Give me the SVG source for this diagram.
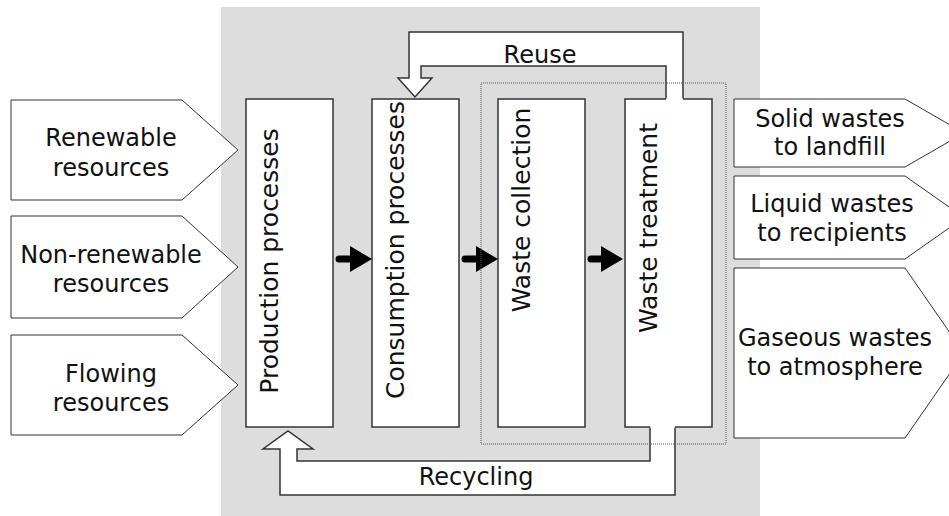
<svg xmlns="http://www.w3.org/2000/svg" width="949" height="516" viewBox="0 0 949 516">
<style>
.t{font-family:"DejaVu Sans","Verdana",sans-serif;font-size:24px;fill:#111;text-anchor:middle}
.tv{font-family:"DejaVu Sans","Verdana",sans-serif;font-size:25px;fill:#111;text-anchor:middle}
.box{fill:#fff;stroke:#333;stroke-width:1.5}
.pent{fill:#fff;stroke:#333;stroke-width:1}
.big{fill:#fff;stroke:none}
.edge{fill:none;stroke:#333;stroke-width:1.5;stroke-linejoin:miter}
.blk{stroke:#000;stroke-width:7;stroke-linecap:round;fill:none}
.head{fill:#000}
</style>
<rect x="221" y="7" width="539" height="509" fill="#dddddd"/>
<g id="renewable">
<polygon class="pent" points="11,100 182,100 238,150 182,200 11,200"/>
<text class="t" x="111" y="146">Renewable</text>
<text class="t" x="111" y="176">resources</text>
</g>
<g id="nonrenewable">
<polygon class="pent" points="11,216 182,216 238,267 182,318 11,318"/>
<text class="t" x="111" y="263">Non-renewable</text>
<text class="t" x="111" y="292">resources</text>
</g>
<g id="flowing">
<polygon class="pent" points="11,335 182,335 238,385 182,435 11,435"/>
<text class="t" x="111" y="382">Flowing</text>
<text class="t" x="111" y="411">resources</text>
</g>
<g id="production">
<rect class="box" x="246" y="99" width="87" height="328"/>
<text class="tv" transform="translate(278,261) rotate(-90)">Production processes</text>
</g>
<g id="consumption">
<rect class="box" x="372" y="99" width="87" height="328"/>
<text class="tv" transform="translate(404,250) rotate(-90)">Consumption processes</text>
</g>
<g id="collection">
<rect class="box" x="498" y="99" width="87" height="328"/>
<text class="tv" transform="translate(530,210) rotate(-90)">Waste collection</text>
</g>
<g id="treatment">
<rect class="box" x="625" y="99" width="87" height="328"/>
<text class="tv" transform="translate(657,228) rotate(-90)">Waste treatment</text>
</g>
<g id="solid">
<polygon class="pent" points="734,99 905,99 964,133 905,167 734,167"/>
<text class="t" x="830" y="127">Solid wastes</text>
<text class="t" x="830" y="155">to landfill</text>
</g>
<g id="liquid">
<polygon class="pent" points="734,176 905,176 964,217.5 905,259 734,259"/>
<text class="t" x="832" y="212">Liquid wastes</text>
<text class="t" x="832" y="241">to recipients</text>
</g>
<g id="gaseous">
<polygon class="pent" points="734,268 905,268 964,353 905,438 734,438"/>
<text class="t" x="835" y="346">Gaseous wastes</text>
<text class="t" x="835" y="375">to atmosphere</text>
</g>
<g id="connectors">
<g id="reuse">
<polygon class="big" points="666,100.5 666,66 421,66 421,78 432,78 415,97 398,78 409,78 409,32 683,32 683,100.5"/>
<polyline class="edge" points="666,98.5 666,66 421,66 421,78 432,78 415,97 398,78 409,78 409,32 683,32 683,98.5"/>
<text class="t" x="540" y="63">Reuse</text>
</g>
<g id="recycling">
<polygon class="big" points="650,425.5 650,461 297,461 297,449 313,449 288,431 263,449 280,449 280,495 675,495 675,425.5"/>
<polyline class="edge" points="650,427.5 650,461 297,461 297,449 313,449 288,431 263,449 280,449 280,495 675,495 675,427.5"/>
<text class="t" x="476" y="485">Recycling</text>
</g>
<g id="a1"><line class="blk" x1="339" y1="259" x2="352" y2="259"/><polygon class="head" points="350,246 372,259 350,272"/></g>
<g id="a2"><line class="blk" x1="465" y1="259" x2="478" y2="259"/><polygon class="head" points="476,246 498,259 476,272"/></g>
<g id="a3"><line class="blk" x1="591" y1="259" x2="604" y2="259"/><polygon class="head" points="601,246 623,259 601,272"/></g>
</g>
<rect x="481" y="83" width="245" height="361" fill="none" stroke="#555" stroke-width="1" stroke-dasharray="1,1"/>
</svg>
